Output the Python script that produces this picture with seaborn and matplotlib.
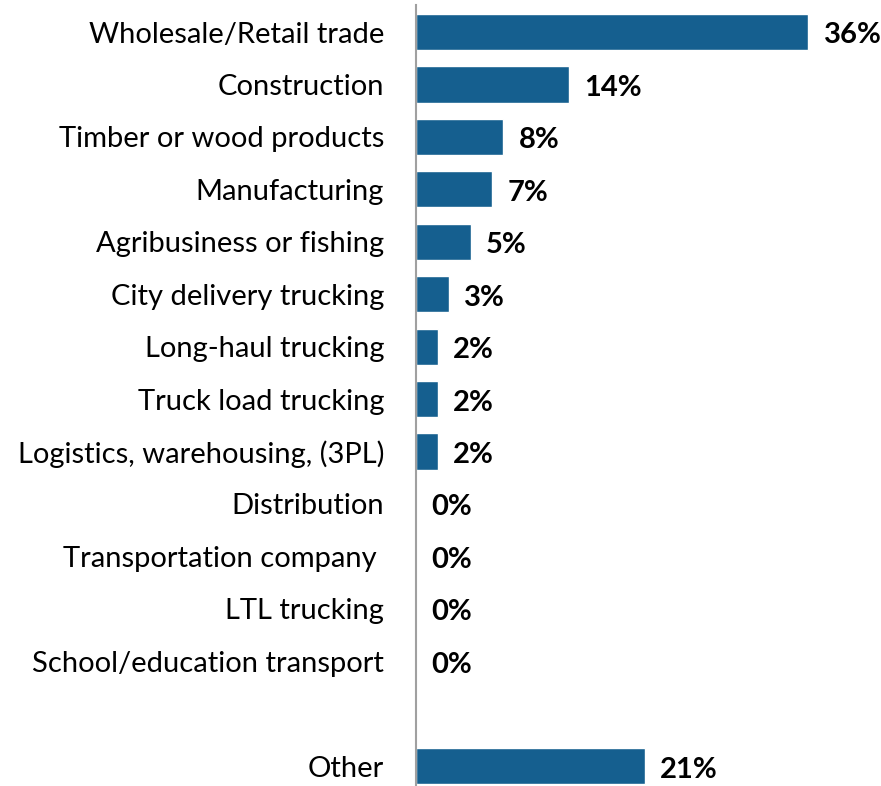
import numpy as np
import pandas as pd
import matplotlib
matplotlib.use("Agg")
import matplotlib.pyplot as plt
import seaborn as sns

# 数据
categories = [
    "Wholesale/Retail trade",
    "Construction",
    "Timber or wood products",
    "Manufacturing",
    "Agribusiness or fishing",
    "City delivery trucking",
    "Long-haul trucking",
    "Truck load trucking",
    "Logistics, warehousing, (3PL)",
    "Distribution",
    "Transportation company ",
    "LTL trucking",
    "School/education transport",
    " ",
    "Other",
]
values = [36, 14, 8, 7, 5, 3, 2, 2, 2, 0, 0, 0, 0, np.nan, 21]

df = pd.DataFrame({"category": categories, "pct": values})

sns.set_theme(style="white")
plt.rcParams["font.family"] = ["Lato", "DejaVu Sans"]

fig = plt.figure(figsize=(8.81, 7.86), dpi=100)
ax = fig.add_axes([416 / 881, 0, 436 / 881, 781 / 786])

sns.barplot(data=df, x="pct", y="category", order=categories,
            color="#155F8F", saturation=1, width=0.69, ax=ax)

# 数值标注
for i, v in enumerate(values):
    if np.isnan(v):
        continue
    ax.annotate(f"{v:.0f}%", (v, i), xytext=(11, -2.5), textcoords="offset points",
                ha="left", va="center", fontsize=21, fontweight="bold",
                color="black", annotation_clip=False)

ax.set_xlim(0, 40)
ax.set_ylim(14.38, -0.515)
ax.set_xlabel("")
ax.set_ylabel("")
ax.set_xticks([])
ax.tick_params(axis="y", length=0, pad=23, labelsize=21, labelcolor="black")
for s in ["top", "right", "bottom"]:
    ax.spines[s].set_visible(False)
ax.spines["left"].set_color("#A0A0A0")
ax.spines["left"].set_linewidth(1.5)

plt.savefig("out.png", dpi=100)
plt.close()
